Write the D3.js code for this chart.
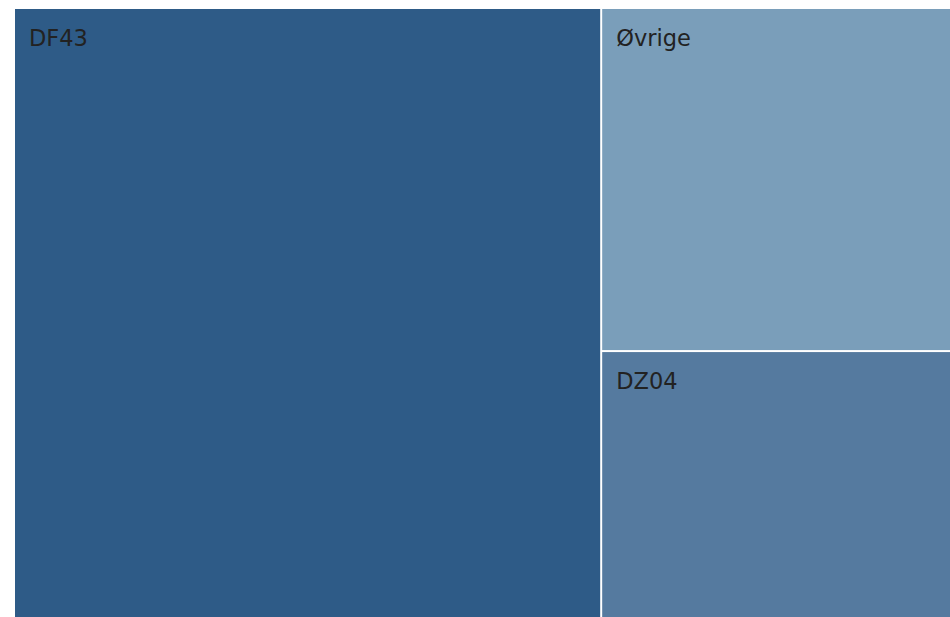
<!DOCTYPE html>
<html>
<head>
<meta charset="utf-8">
<script src="https://cdn.jsdelivr.net/npm/d3@7"></script>
<style>
  html, body { margin: 0; padding: 0; background: #fff; overflow: hidden; }
  svg { display: block; }
</style>
</head>
<body>
<div id="chart"></div>
<script>
const categories = ["DF43", "Øvrige", "DZ04"];
const shares = [62.6, 21.0, 16.4];

const width = 950;
const height = 617;
const margin = { top: 9, left: 15 };

const color = d3.scaleOrdinal(categories, ["#2e5b87", "#7a9eba", "#557a9f"]);

const svg = d3.select("#chart")
  .append("svg")
  .attr("width", width)
  .attr("height", height);

const root = d3.hierarchy({ children: categories.map((c, i) => ({ name: c, value: shares[i] })) })
  .sum(d => d.value || 0)
  .sort((a, b) => b.value - a.value);

d3.treemap()
  .tile(d3.treemapSquarify)
  .size([936, 609])
  .paddingInner(2)(root);

const g = svg.append("g")
  .attr("transform", `translate(${margin.left}, ${margin.top})`);

const cell = g.selectAll("g.cell")
  .data(root.leaves())
  .enter()
  .append("g")
  .attr("class", "cell")
  .attr("transform", d => `translate(${d.x0}, ${d.y0})`);

cell.append("rect")
  .attr("width", d => d.x1 - d.x0)
  .attr("height", d => d.y1 - d.y0)
  .attr("fill", d => color(d.data.name));

cell.append("text")
  .attr("x", 14)
  .attr("y", 37)
  .attr("font-family", "DejaVu Sans, sans-serif")
  .attr("font-size", 22.5)
  .attr("fill", "#222")
  .text(d => d.data.name);
</script>
</body>
</html>
